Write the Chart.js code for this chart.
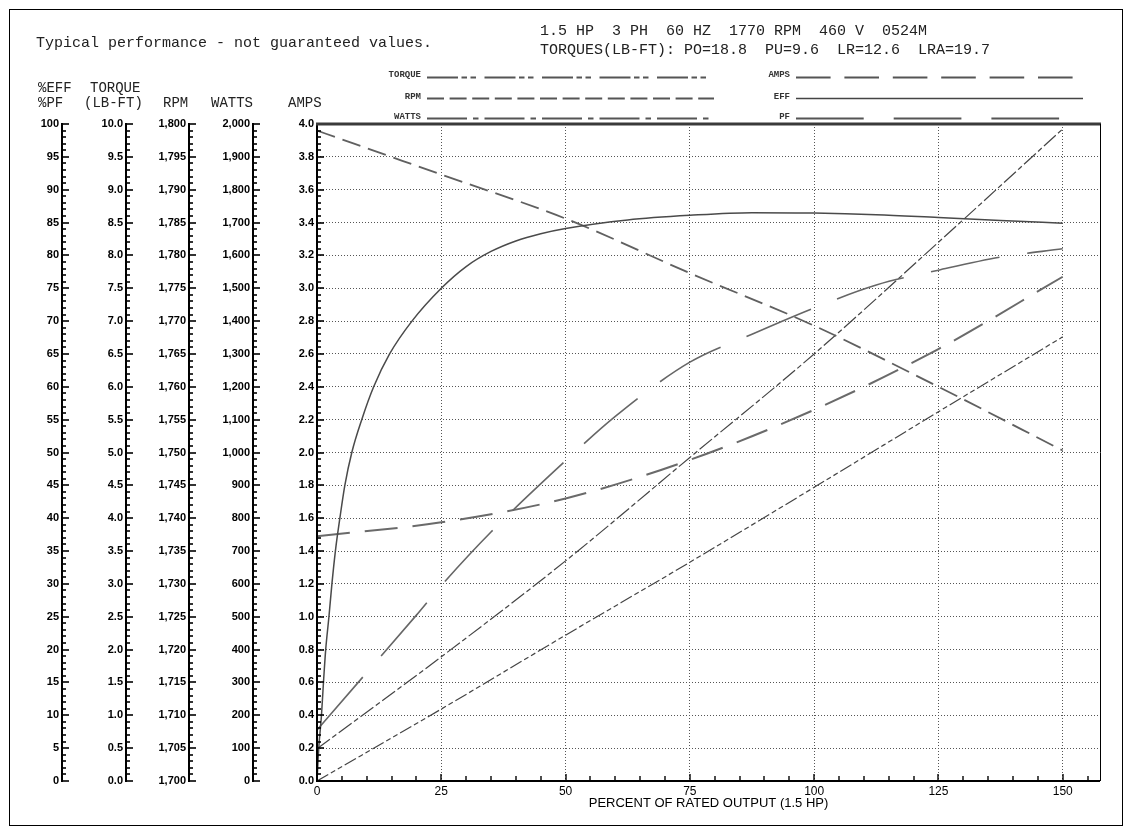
<!DOCTYPE html>
<html><head><meta charset="utf-8">
<script src="https://cdn.jsdelivr.net/npm/chart.js@4/dist/chart.umd.min.js"></script>
<style>
body{margin:0;background:#fff;}
#wrap{position:relative;width:1133px;height:835px;overflow:hidden;}
canvas{position:absolute;left:0;top:0;}
.t{position:absolute;font-family:'Liberation Mono','Courier New',monospace;white-space:pre;color:#222;line-height:1;}
.lg{position:absolute;font-family:'Liberation Mono','Courier New',monospace;font-weight:bold;font-size:9px;white-space:pre;text-align:right;line-height:1;color:#333;}
</style></head>
<body><div id="wrap"><canvas id="c" width="1133" height="835"></canvas>
<div class="t" style="left:36px;top:35.5px;font-size:15px">Typical performance - not guaranteed values.</div>
<div class="t" style="left:540px;top:23.5px;font-size:15px">1.5 HP  3 PH  60 HZ  1770 RPM  460 V  0524M</div>
<div class="t" style="left:540px;top:42.5px;font-size:15px">TORQUES(LB-FT): PO=18.8  PU=9.6  LR=12.6  LRA=19.7</div>
<div class="t" style="left:38px;top:81.3px;font-size:14px">%EFF</div>
<div class="t" style="left:38px;top:96.3px;font-size:14px">%PF</div>
<div class="t" style="left:90px;top:81.3px;font-size:14px">TORQUE</div>
<div class="t" style="left:84px;top:96.3px;font-size:14px">(LB-FT)</div>
<div class="t" style="left:163px;top:96.3px;font-size:14px">RPM</div>
<div class="t" style="left:211px;top:96.3px;font-size:14px">WATTS</div>
<div class="t" style="left:288px;top:96.3px;font-size:14px">AMPS</div>
<div class="lg" style="right:712px;top:70.7px">TORQUE</div>
<div class="lg" style="right:712px;top:92.7px">RPM</div>
<div class="lg" style="right:712px;top:112.7px">WATTS</div>
<div class="lg" style="right:343px;top:70.7px">AMPS</div>
<div class="lg" style="right:343px;top:92.7px">EFF</div>
<div class="lg" style="right:343px;top:112.7px">PF</div>
</div>
<script>
// ---- data ----
const loadPct      = [0, 25, 50, 75, 100, 125, 150];
const rpmValues    = [1799, 1792.3, 1785.6, 1777.3, 1769.3, 1760, 1750.3];
const ampsValues   = [1.49, 1.575, 1.72, 1.955, 2.26, 2.63, 3.07];
const wattsValues  = [98, 378, 670, 985, 1300, 1640, 1985];
const torqueValues = [0, 1.095, 2.22, 3.33, 4.47, 5.62, 6.76];
const pfLoad   = [0, 10, 20, 25, 35, 50, 60, 75, 87.5, 100, 112.5, 125, 137.5, 150];
const pfValues = [7.75, 16.5, 25.25, 29.75, 37.9, 48.75, 55.5, 63.75, 68, 72, 75.5, 77.75, 79.75, 81];
const effLoad   = [0, 0.35, 0.9, 1.3, 1.75, 2.4, 3, 3.7, 4.6, 5.6, 7, 9, 11.4, 14.6, 19.1, 25, 30, 35, 40, 45, 50, 62.5, 75, 87.5, 100, 112.5, 125, 137.5, 150];
const effValues = [0, 5, 10, 15, 20, 25, 30, 35, 40, 45, 50, 55, 60, 65, 70, 75, 78.3, 80.6, 82.2, 83.3, 84.1, 85.4, 86.1, 86.5, 86.45, 86.2, 85.75, 85.3, 84.9];
const xTicks = [0, 25, 50, 75, 100, 125, 150];

const pts = (xs, ys) => xs.map((x, i) => ({x, y: ys[i]}));

const NARROW = "'Liberation Sans Narrow','Arial Narrow','Liberation Sans',Arial,sans-serif";

const legendItems = [
  {label:'TORQUE', x0:427, x1:714, y:77.5, color:'#555', w:1.8, dash:[31,3.5,5.5,3.5,5.5,8.5]},
  {label:'RPM',    x0:427, x1:714, y:98.5, color:'#555', w:1.8, dash:[17,5.6]},
  {label:'WATTS',  x0:427, x1:714, y:118.5, color:'#555', w:1.8, dash:[40,6,5.5,6]},
  {label:'AMPS',   x0:796, x1:1083, y:77.5, color:'#555', w:1.8, dash:[34.6,13.8]},
  {label:'EFF',    x0:796, x1:1083, y:98.5, color:'#444', w:1.5, dash:[]},
  {label:'PF',     x0:796, x1:1083, y:118.5, color:'#555', w:1.8, dash:[67.7,30]}
];

const overlay = {
  id: 'overlay',
  beforeDraw(chart) {
    const ctx = chart.ctx;
    ctx.save();
    ctx.fillStyle = '#fff'; ctx.fillRect(0, 0, chart.width, chart.height);
    ctx.strokeStyle = '#000'; ctx.lineWidth = 1;
    ctx.strokeRect(9.5, 9.5, 1113, 816);
    ctx.restore();
  },
  afterDraw(chart) {
    const ctx = chart.ctx, ca = chart.chartArea;
    ctx.save();
    ctx.setLineDash([]);
    ['yEff','yTorque','yRpm','yWatts','yAmps'].forEach(id => {
      const s = chart.scales[id];
      const x = Math.round(s.right);
      ctx.strokeStyle = '#000'; ctx.lineWidth = 2;
      ctx.beginPath(); ctx.moveTo(x, ca.top - 1); ctx.lineTo(x, ca.bottom + 1); ctx.stroke();
      const step = s.options.ticks.stepSize;
      const n = Math.round((s.max - s.min) / step) * 5;
      ctx.lineWidth = 1.6;
      for (let i = 0; i <= n; i++) {
        const v = s.min + i * step / 5;
        const y = Math.round(s.getPixelForValue(v));
        const len = (i % 5 === 0) ? 7 : 4;
        ctx.beginPath(); ctx.moveTo(x, y); ctx.lineTo(x + len, y); ctx.stroke();
      }
    });
    const xs = chart.scales.x;
    ctx.strokeStyle = '#000'; ctx.lineWidth = 2;
    ctx.beginPath(); ctx.moveTo(ca.left - 1, ca.bottom); ctx.lineTo(ca.right, ca.bottom); ctx.stroke();
    ctx.lineWidth = 1.4;
    for (let v = 0; v <= 155; v += 5) {
      const x = Math.round(xs.getPixelForValue(v));
      const len = (v % 25 === 0) ? 7 : 5;
      ctx.beginPath(); ctx.moveTo(x, ca.bottom); ctx.lineTo(x, ca.bottom - len); ctx.stroke();
    }
    ctx.strokeStyle = '#3a3a3a'; ctx.lineWidth = 3;
    ctx.beginPath(); ctx.moveTo(ca.left - 1, ca.top); ctx.lineTo(ca.right + 1, ca.top); ctx.stroke();
    ctx.strokeStyle = '#000'; ctx.lineWidth = 1;
    ctx.beginPath(); ctx.moveTo(Math.round(ca.right) + 0.5, ca.top); ctx.lineTo(Math.round(ca.right) + 0.5, ca.bottom); ctx.stroke();
    legendItems.forEach(it => {
      ctx.strokeStyle = it.color; ctx.lineWidth = it.w;
      ctx.setLineDash(it.dash);
      ctx.beginPath(); ctx.moveTo(it.x0, it.y); ctx.lineTo(it.x1, it.y); ctx.stroke();
    });
    ctx.restore();
  }
};

const tickFont = {family: NARROW, size: 11, weight: 'bold'};
function sideAxis(min, max, step, weight, width, fmt, withGrid) {
  return {
    type: 'linear', position: 'left', weight: weight, min: min, max: max,
    afterFit: s => { s.width = width; },
    border: {display: false, dash: [1, 2]},
    grid: {display: !!withGrid, drawTicks: false, color: '#555', lineWidth: 1},
    ticks: {stepSize: step, padding: 3, color: '#000', font: tickFont, callback: fmt, autoSkip: false, includeBounds: false}
  };
}

const ds = (label, xsArr, ysArr, axis, color, width, dash) => ({
  label, data: pts(xsArr, ysArr), yAxisID: axis, borderColor: color, borderWidth: width,
  borderDash: dash, pointRadius: 0, fill: false, cubicInterpolationMode: 'monotone', tension: 0.4
});

new Chart(document.getElementById('c'), {
  type: 'line',
  data: {
    datasets: [
      ds('EFF', effLoad, effValues, 'yEff', '#4a4a4a', 1.5, []),
      ds('PF', pfLoad, pfValues, 'yEff', '#666', 1.6, [70, 28]),
      ds('RPM', loadPct, rpmValues, 'yRpm', '#606060', 1.8, [19, 8]),
      ds('AMPS', loadPct, ampsValues, 'yAmps', '#6a6a6a', 2, [33, 15]),
      ds('WATTS', loadPct, wattsValues, 'yWatts', '#444', 1.2, [16, 3, 5, 3]),
      ds('TORQUE', loadPct, torqueValues, 'yTorque', '#444', 1.2, [13, 3, 5, 3, 5, 3])
    ]
  },
  options: {
    responsive: false, animation: false, devicePixelRatio: 1,
    layout: {padding: {left: 10, top: 124, right: 33, bottom: 20}},
    plugins: {legend: {display: false}, tooltip: {enabled: false}},
    scales: {
      x: {
        type: 'linear', position: 'bottom', min: 0, max: 157.5,
        afterFit: s => { s.height = 34; },
        border: {display: false, dash: [1, 2]},
        grid: {drawTicks: false, color: '#555', lineWidth: 1},
        afterBuildTicks: s => { s.ticks = xTicks.map(v => ({value: v})); },
        ticks: {stepSize: 25, padding: 3, color: '#000', font: {family: NARROW, size: 12}, includeBounds: false, autoSkip: false, maxRotation: 0},
        title: {display: true, text: 'PERCENT OF RATED OUTPUT (1.5 HP)', color: '#000', font: {family: NARROW, size: 13}, padding: {top: 0, bottom: 4}}
      },
      yEff: sideAxis(0, 100, 5, 5, 52, v => String(v)),
      yTorque: sideAxis(0, 10, 0.5, 4, 64, v => v.toFixed(1)),
      yRpm: sideAxis(1700, 1800, 5, 3, 63, v => Math.round(v).toLocaleString('en-US')),
      yWatts: sideAxis(0, 2000, 100, 2, 64, v => Math.round(v).toLocaleString('en-US')),
      yAmps: sideAxis(0, 4, 0.2, 1, 64, v => v.toFixed(1), true)
    }
  },
  plugins: [overlay]
});
</script>
</body></html>
